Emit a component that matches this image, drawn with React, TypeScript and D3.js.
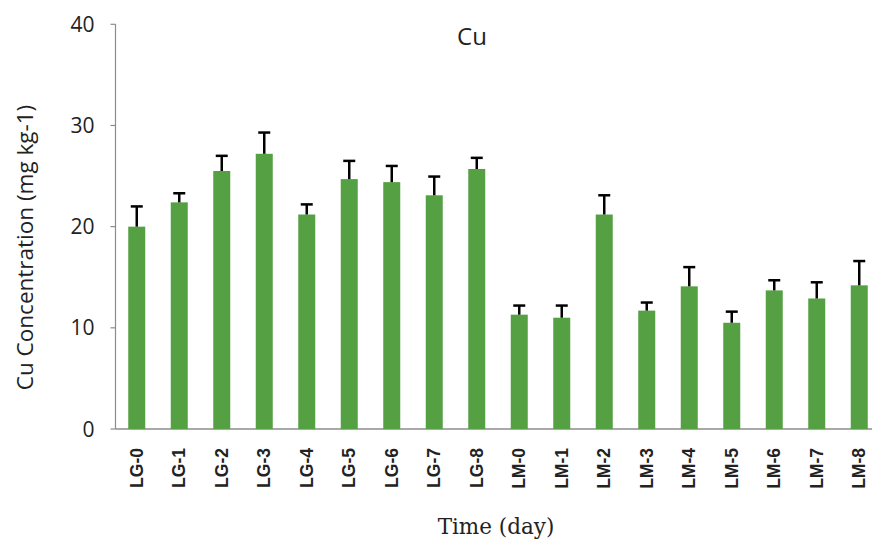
import React from "react";
import * as d3 from "d3";

const categories = ["LG-0","LG-1","LG-2","LG-3","LG-4","LG-5","LG-6","LG-7","LG-8","LM-0","LM-1","LM-2","LM-3","LM-4","LM-5","LM-6","LM-7","LM-8"];
const values = [20.0, 22.4, 25.5, 27.2, 21.2, 24.7, 24.4, 23.1, 25.7, 11.3, 11.0, 21.2, 11.7, 14.1, 10.5, 13.7, 12.9, 14.2];
const errors = [2.0, 0.9, 1.5, 2.1, 1.0, 1.8, 1.6, 1.85, 1.1, 0.9, 1.2, 1.9, 0.8, 1.9, 1.1, 1.0, 1.6, 2.4];
const yTicks = [0, 10, 20, 30, 40];

export default function App() {
  const width = 872, height = 539;
  const x0 = 115.5, yTop = 24.3, yBot = 429;
  const x = d3.scaleBand<string>().domain(categories).range([x0, x0 + 42.5 * categories.length]).paddingInner(0.6).paddingOuter(0.3);
  const y = d3.scaleLinear().domain([0, 40]).range([yBot, yTop]);
  const bw = x.bandwidth();
  return (
    <svg width={width} height={height} style={{ position: "absolute", left: 0, top: 0 }}>
      <rect width={width} height={height} fill="#fff" />
      <line x1={x0} x2={width} y1={yBot} y2={yBot} stroke="#8c8c8c" strokeWidth={1.5} />
      <line x1={x0} x2={x0} y1={yTop} y2={yBot} stroke="#8c8c8c" strokeWidth={1.2} />
      {yTicks.map(t => (
        <g key={t}>
          <line x1={x0 - 5} x2={x0} y1={y(t)} y2={y(t)} stroke="#8c8c8c" strokeWidth={1.2} />
          <text x={x0 - 21} y={y(t)} dy="0.36em" textAnchor="end" fontFamily="'Open Sans', sans-serif" fontSize={21} fill="#222">{t}</text>
        </g>
      ))}
      {categories.map((c, i) => {
        const cx = (x(c) as number) + bw / 2;
        const top = y(values[i]);
        const et = y(values[i] + errors[i]);
        return (
          <g key={c}>
            <rect x={x(c)} y={top} width={bw} height={yBot - top} fill="#56a044" />
            <line x1={cx} x2={cx} y1={top} y2={et} stroke="#000" strokeWidth={2.5} />
            <line x1={cx - 6} x2={cx + 6} y1={et} y2={et} stroke="#000" strokeWidth={2.5} />
            <text transform={`translate(${cx + 6},${448}) rotate(-90)`} textAnchor="end" fontFamily="'Liberation Sans', Arial, sans-serif" fontWeight="bold" fontSize={17.5} fill="#222">{c}</text>
          </g>
        );
      })}
      <text x={472} y={45} textAnchor="middle" fontFamily="'Open Sans', sans-serif" fontSize={24} fill="#222">Cu</text>
      <text transform="translate(33,247.5) rotate(-90)" textAnchor="middle" fontFamily="'Open Sans', sans-serif" fontSize={22.5} fill="#222">Cu Concentration (mg kg-1)</text>
      <text x={496} y={534} textAnchor="middle" fontFamily="'DejaVu Serif', serif" fontSize={21.5} fill="#222">Time (day)</text>
    </svg>
  );
}
